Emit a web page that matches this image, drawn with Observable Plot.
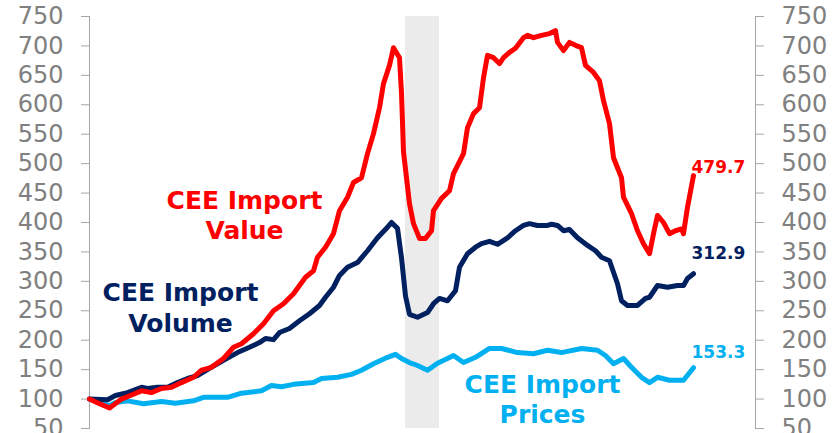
<!DOCTYPE html>
<html>
<head>
<meta charset="utf-8">
<script src="https://cdn.jsdelivr.net/npm/d3@7"></script>
<script src="https://cdn.jsdelivr.net/npm/@observablehq/plot@0.6"></script>
<style>
  body { margin: 0; background: #fff; }
  #chart { width: 840px; height: 433px; overflow: hidden; }
</style>
</head>
<body>
<div id="chart"></div>
<script>
// Y-axis tick values (both sides)
const yTicks = [50, 100, 150, 200, 250, 300, 350, 400, 450, 500, 550, 600, 650, 700, 750];

// CEE Import Value (index, start = 100), by month since start
const valueMonths = [0, 5, 10, 16, 21, 26, 31, 36, 41, 46, 52, 56, 61, 67, 72, 76, 82, 87, 92, 97, 102, 108, 112, 114, 118, 122, 125, 129, 132, 136, 139, 142, 145, 147, 150, 152, 155, 156, 157, 160, 162, 165, 168, 171, 172, 176, 180, 182, 187, 189, 192, 195, 197, 199, 202, 205, 207, 210, 213, 217, 219, 222, 226, 230, 233, 234, 237, 240, 243, 246, 248, 252, 255, 257, 260, 262, 266, 267, 271, 274, 277, 280, 282, 284, 287, 290, 293, 296, 297, 299, 302];
const valueIndex = [100, 92, 85, 100, 107, 114, 111, 118, 120, 128, 137, 149, 154, 169, 188, 194, 211, 228, 250, 262, 279, 307, 318, 341, 358, 381, 420, 443, 468, 476, 517, 551, 595, 636, 667, 697, 680, 620, 520, 432, 398, 373, 373, 386, 420, 441, 454, 483, 517, 561, 585, 595, 646, 684, 680, 670, 680, 689, 696, 714, 718, 714, 718, 721, 726, 706, 692, 706, 701, 697, 667, 655, 641, 607, 568, 510, 476, 443, 415, 386, 364, 347, 381, 412, 400, 381, 386, 389, 381, 426, 479.7];

// CEE Import Volume
const volumeMonths = [0, 9, 13, 19, 26, 29, 34, 39, 44, 49, 54, 60, 67, 74, 80, 85, 88, 92, 95, 100, 105, 110, 115, 118, 122, 125, 129, 134, 139, 144, 149, 151, 154, 156, 158, 160, 164, 169, 172, 175, 179, 183, 185, 189, 193, 196, 200, 204, 209, 213, 217, 220, 224, 229, 231, 234, 237, 240, 244, 249, 253, 256, 260, 264, 266, 269, 274, 278, 280, 284, 289, 294, 297, 299, 302];
const volumeIndex = [100, 99, 106, 111, 120, 118, 120, 120, 128, 135, 140, 152, 166, 179, 188, 196, 203, 201, 213, 220, 233, 245, 259, 273, 290, 310, 324, 332, 352, 374, 392, 400, 390, 340, 275, 244, 239, 247, 262, 271, 267, 284, 324, 347, 358, 364, 368, 363, 374, 386, 395, 398, 395, 395, 397, 395, 386, 388, 374, 361, 352, 341, 335, 296, 267, 259, 259, 271, 273, 293, 290, 293, 293, 305, 312.9];

// CEE Import Prices
const pricesMonths = [0, 10, 13, 19, 27, 36, 43, 52, 57, 69, 76, 86, 91, 96, 102, 112, 116, 124, 131, 136, 142, 149, 153, 156, 160, 164, 169, 174, 179, 182, 187, 193, 200, 206, 214, 222, 229, 236, 246, 254, 258, 262, 267, 271, 276, 280, 284, 290, 297, 302];
const pricesIndex = [100, 89, 94, 97, 92, 96, 93, 97, 103, 103, 110, 114, 123, 121, 125, 128, 135, 137, 142, 149, 160, 171, 176, 169, 162, 157, 149, 161, 169, 174, 162, 171, 186, 186, 179, 177, 183, 179, 186, 183, 174, 160, 169, 154, 137, 128, 137, 132, 132, 153.3];

// Shaded recession period (months since start)
const recessionStart = [158];
const recessionEnd = [175];

const toRows = (ts, vs) => ts.map((t, i) => ({t, v: vs[i]}));
const valueData = toRows(valueMonths, valueIndex);
const volumeData = toRows(volumeMonths, volumeIndex);
const pricesData = toRows(pricesMonths, pricesIndex);
const recession = recessionStart.map((s, i) => ({start: s, end: recessionEnd[i]}));

const RED = "#ff0000", NAVY = "#002060", CYAN = "#00b0f0";
const AXIS = "#a6a6a6", TICKTEXT = "#808080";
const last = (a) => a[a.length - 1];

const chart = Plot.plot({
  width: 840,
  height: 433,
  marginLeft: 89,
  marginRight: 85,
  marginTop: 16,
  marginBottom: 5,
  x: {domain: [0, 333], axis: null},
  y: {domain: [50, 750], axis: null},
  style: {fontFamily: "'DejaVu Sans', Verdana, sans-serif", fontSize: "24px", background: "#fff", overflow: "hidden"},
  marks: [
    Plot.rect(recession, {x1: "start", x2: "end", fill: "#ebebeb"}),
    Plot.frame({anchor: "left", stroke: AXIS}),
    Plot.frame({anchor: "right", stroke: AXIS}),
    Plot.axisY({anchor: "left", ticks: yTicks, tickSize: 8, tickPadding: 18, stroke: AXIS, fill: TICKTEXT, label: null, fontSize: 24}),
    Plot.axisY({anchor: "right", ticks: yTicks, tickSize: 8, tickPadding: 18, stroke: AXIS, fill: TICKTEXT, label: null, fontSize: 24}),
    Plot.line(pricesData, {x: "t", y: "v", stroke: CYAN, strokeWidth: 5, strokeLinejoin: "round", strokeLinecap: "round"}),
    Plot.line(volumeData, {x: "t", y: "v", stroke: NAVY, strokeWidth: 5, strokeLinejoin: "round", strokeLinecap: "round"}),
    Plot.line(valueData, {x: "t", y: "v", stroke: RED, strokeWidth: 5, strokeLinejoin: "round", strokeLinecap: "round"}),
    // series labels
    Plot.text(["CEE Import\nValue"], {x: 77.5, y: 460, text: d => d, fill: RED, fontWeight: "bold", fontSize: 25, lineAnchor: "top", lineHeight: 1.22}),
    Plot.text(["CEE Import\nVolume"], {x: 45.5, y: 304, text: d => d, fill: NAVY, fontWeight: "bold", fontSize: 25, lineAnchor: "top", lineHeight: 1.24}),
    Plot.text(["CEE Import\nPrices"], {x: 226.5, y: 147, text: d => d, fill: CYAN, fontWeight: "bold", fontSize: 25, lineAnchor: "top", lineHeight: 1.2}),
    // end-value labels
    Plot.text([last(valueData)], {x: "t", y: "v", text: d => d.v.toFixed(1), fill: RED, fontWeight: "bold", fontSize: 17, textAnchor: "start", dx: -2, dy: -8}),
    Plot.text([last(volumeData)], {x: "t", y: "v", text: d => d.v.toFixed(1), fill: NAVY, fontWeight: "bold", fontSize: 17, textAnchor: "start", dx: -2, dy: -20}),
    Plot.text([last(pricesData)], {x: "t", y: "v", text: d => d.v.toFixed(1), fill: CYAN, fontWeight: "bold", fontSize: 17, textAnchor: "start", dx: -2, dy: -15})
  ]
});
document.getElementById("chart").appendChild(chart);
</script>
</body>
</html>
